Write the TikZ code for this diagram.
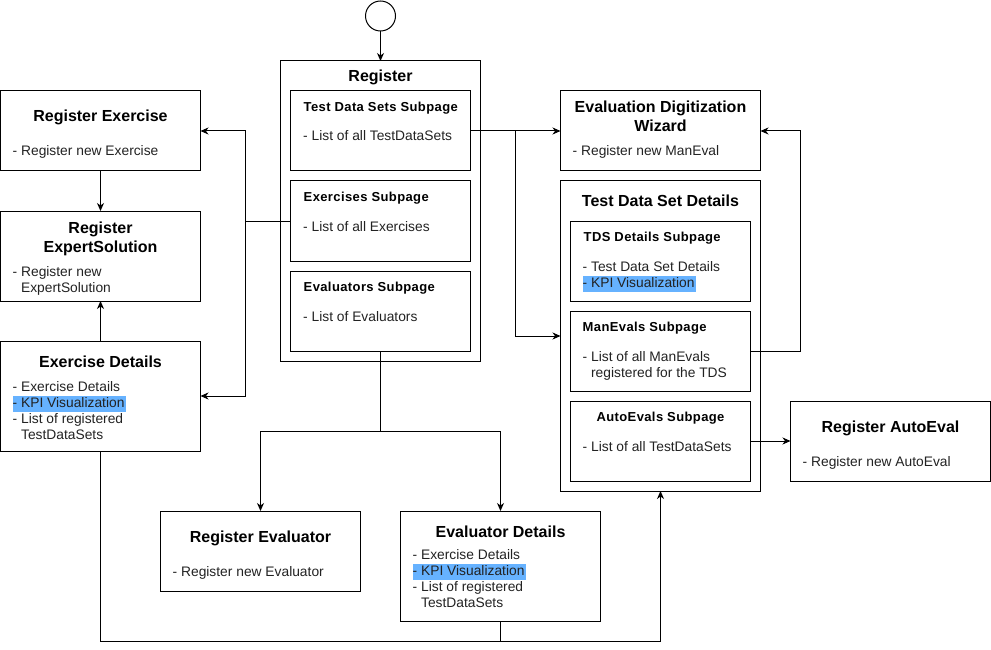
\documentclass[tikz,border=0pt]{standalone}
\usepackage{fontspec}
\setmainfont{Liberation Sans}
\usetikzlibrary{positioning,calc,arrows.meta}
\definecolor{kpiblue}{HTML}{66B2FF}
\definecolor{bodygray}{HTML}{222222}
\newcommand{\kpi}{{\setlength{\fboxsep}{0pt}\colorbox{kpiblue}{\strut- KPI Visualization\hspace{2pt}}}}
\newcommand{\dashindent}{\hphantom{- }}
\tikzstyle{page}=[draw, line width=1pt, inner sep=0pt, outer sep=0pt,
        minimum width=200pt, minimum height=80pt]
\tikzstyle{subpage}=[page, minimum width=180pt]
\tikzstyle{ttl}=[anchor=base, align=center, inner sep=0pt,
        font=\fontsize{16}{19}\selectfont\bfseries]
\tikzstyle{subttl}=[anchor=base west, inner sep=0pt,
        font=\fontsize{13}{16}\selectfont\bfseries\addfontfeature{LetterSpace=3}]
\tikzstyle{txt}=[anchor=base west, align=left, inner sep=0pt, text=bodygray,
        font=\fontsize{13.8}{16}\selectfont]
\tikzstyle{conn}=[line width=1pt, -{Stealth[length=8pt, width=7pt, inset=2.5pt]}]

\begin{document}
\begin{tikzpicture}[x=1pt, y=-1pt]
        \useasboundingbox (-0.5,0) rectangle (990.5,650);

        % register page with its subpages
        \node[draw, circle, line width=1pt, minimum size=30pt, inner sep=0pt, outer sep=0pt]
            (start) at (380,16) {};
        \node[page, minimum height=300pt, below=30pt of start] (reg) {};
        \node[ttl] (regT) at ([yshift=-21pt]reg.north) {Register};

        \node[subpage, below=30pt of reg.north] (tdsSub) {};
        \node[subttl] (tdsSubT) at ([shift={(13pt,-20.5pt)}]tdsSub.north west)
            {Test Data Sets Subpage};
        \node[txt] (tdsSubB) at ([shift={(12.5pt,-50pt)}]tdsSub.north west)
            {- List of all TestDataSets};

        \node[subpage, below=10pt of tdsSub] (exSub) {};
        \node[subttl] (exSubT) at ([shift={(13pt,-20.5pt)}]exSub.north west)
            {Exercises Subpage};
        \node[txt] (exSubB) at ([shift={(12.5pt,-50pt)}]exSub.north west)
            {- List of all Exercises};

        \node[subpage, below=10pt of exSub] (evSub) {};
        \node[subttl] (evSubT) at ([shift={(13pt,-20.5pt)}]evSub.north west)
            {Evaluators Subpage};
        \node[txt] (evSubB) at ([shift={(12.5pt,-50pt)}]evSub.north west)
            {- List of Evaluators};

        % exercise pages
        \node[page, left=90pt of tdsSub] (rex) {};
        \node[ttl] (rexT) at ([yshift=-31pt]rex.north) {Register Exercise};
        \node[txt] (rexB) at ([shift={(12pt,-65pt)}]rex.north west)
            {- Register new Exercise};

        \node[page, minimum height=90pt, below=40pt of rex] (rexp) {};
        \node[ttl] (rexpT) at ([yshift=-41pt]rexp.north) {Register\\ExpertSolution};
        \node[txt] (rexpB) at ([shift={(12pt,-81pt)}]rexp.north west)
            {- Register new\\\dashindent ExpertSolution};

        \node[page, minimum height=110pt, below=40pt of rexp] (exd) {};
        \node[ttl] (exdT) at ([yshift=-26pt]exd.north) {Exercise Details};
        \node[txt] (exdB) at ([shift={(12pt,-98pt)}]exd.north west)
            {- Exercise Details\\\kpi\\- List of registered\\\dashindent TestDataSets};

        % test data set pages
        \node[page, right=90pt of tdsSub] (wiz) {};
        \node[ttl] (wizT) at ([yshift=-41pt]wiz.north) {Evaluation Digitization\\Wizard};
        \node[txt] (wizB) at ([shift={(12pt,-65pt)}]wiz.north west)
            {- Register new ManEval};

        \node[page, minimum height=310pt, below=10pt of wiz] (tdsd) {};
        \node[ttl] (tdsdT) at ([yshift=-26pt]tdsd.north) {Test Data Set Details};

        \node[subpage, below=40pt of tdsd.north] (tdsdSub) {};
        \node[subttl] (tdsdSubT) at ([shift={(13pt,-20.5pt)}]tdsdSub.north west)
            {TDS Details Subpage};
        \node[txt] (tdsdSubB) at ([shift={(12pt,-66pt)}]tdsdSub.north west)
            {- Test Data Set Details\\\kpi};

        \node[subpage, below=10pt of tdsdSub] (manSub) {};
        \node[subttl] (manSubT) at ([shift={(12pt,-20.5pt)}]manSub.north west)
            {ManEvals Subpage};
        \node[txt] (manSubB) at ([shift={(12pt,-66pt)}]manSub.north west)
            {- List of all ManEvals\\\dashindent registered for the TDS};

        \node[subpage, below=10pt of manSub] (autoSub) {};
        \node[subttl, anchor=base] (autoSubT) at ([yshift=-20.5pt]autoSub.north)
            {AutoEvals Subpage};
        \node[txt] (autoSubB) at ([shift={(12pt,-50pt)}]autoSub.north west)
            {- List of all TestDataSets};

        \node[page, right=40pt of autoSub] (rauto) {};
        \node[ttl] (rautoT) at ([yshift=-31pt]rauto.north) {Register AutoEval};
        \node[txt] (rautoB) at ([shift={(12pt,-65pt)}]rauto.north west)
            {- Register new AutoEval};

        % evaluator pages
        \node[page, anchor=north west] (rev) at (160,511) {};
        \node[ttl] (revT) at ([yshift=-31pt]rev.north) {Register Evaluator};
        \node[txt] (revB) at ([shift={(12pt,-65pt)}]rev.north west)
            {- Register new Evaluator};

        \node[page, minimum height=110pt, anchor=north west] (evd) at (400,511) {};
        \node[ttl] (evdT) at ([yshift=-26pt]evd.north) {Evaluator Details};
        \node[txt] (evdB) at ([shift={(12pt,-96pt)}]evd.north west)
            {- Exercise Details\\\kpi\\- List of registered\\\dashindent TestDataSets};

        % forks
        \coordinate (exTop) at ($(rex.east)+(45,0)$);
        \coordinate (exBot) at ($(exd.east)+(45,0)$);
        \coordinate (tdsFork) at ($(tdsd.west)+(-45,0)$);
        \coordinate (wizFork) at ($(wiz.east)+(40,0)$);
        \coordinate (evFork) at ($(evSub.south)+(0,80)$);
        \coordinate (bus) at ($(exd.south)+(0,190)$);

        \draw[conn] (start) to (reg);
        \draw[conn] (rex) to (rexp);
        \draw[conn] (exd) to (rexp);
        \draw[conn] (exSub.west) -| (exTop) -- (rex.east);
        \draw[conn] (exSub.west) -| (exBot) -- (exd.east);
        \draw[conn] (tdsSub.east) to (wiz.west);
        \draw[conn] (tdsSub.east) -| (tdsFork) -- (tdsd.west);
        \draw[conn] (manSub.east) -| (wizFork) -- (wiz.east);
        \draw[conn] (autoSub) to (rauto);
        \draw[conn] (evSub.south) -- (evFork) -| (rev.north);
        \draw[conn] (evFork) -| (evd.north);
        \draw[conn] (exd.south) -- (bus) -| (tdsd.south);
        \draw[line width=1pt] (evd.south) -- (evd.south |- bus);

    \end{tikzpicture}
\end{document}
